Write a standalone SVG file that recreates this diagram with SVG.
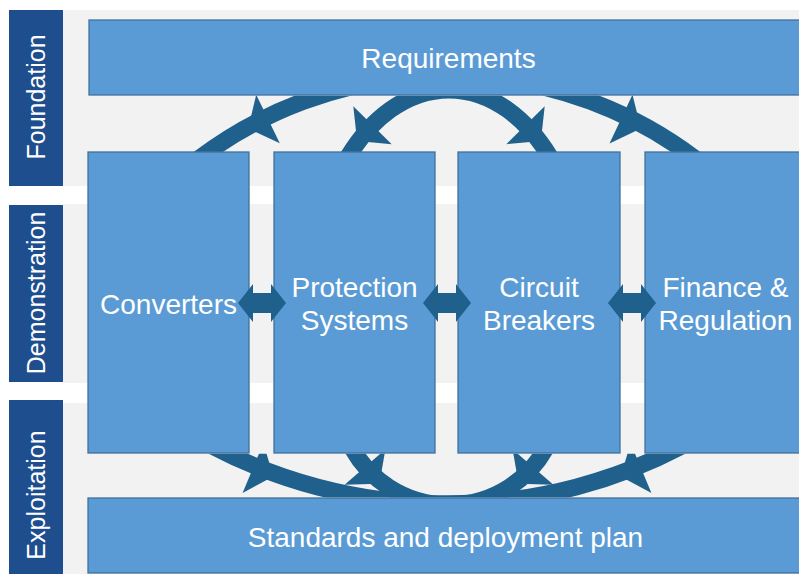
<svg xmlns="http://www.w3.org/2000/svg" xmlns:xlink="http://www.w3.org/1999/xlink" width="799" height="574" viewBox="0 0 799 574">
  <style>
    .band { fill: #f2f2f2; }
    .phase { fill: #1f4e8f; }
    .phase-text { fill: #ffffff; font-family: "Liberation Sans", Arial, sans-serif; font-size: 25px; text-anchor: middle; }
    .box { fill: #5b9bd5; stroke: #41719c; stroke-width: 1.3; }
    .label { fill: #ffffff; font-family: "Liberation Sans", Arial, sans-serif; font-size: 28px; text-anchor: middle; }
    .arc { fill: none; stroke: #20608c; stroke-width: 17; }
    .head { fill: #20608c; }
  </style>
  <defs>
    <path id="dbl" d="M-24 0 L-9 -19 V-10 H9 V-19 L24 0 L9 19 V10 H-9 V19 Z"/>
    <clipPath id="gaps">
      <rect x="0" y="95.7" width="799" height="56"/>
      <rect x="0" y="453.7" width="799" height="43.6"/>
    </clipPath>
  </defs>
  <rect width="799" height="574" fill="#ffffff"/>

  <g id="bands">
    <rect class="band" x="63" y="10" width="736" height="176"/>
    <rect class="band" x="63" y="204" width="736" height="179"/>
    <rect class="band" x="63" y="403" width="736" height="171"/>
  </g>

  <g id="phase-foundation">
    <rect class="phase" x="9" y="10" width="54" height="176"/>
    <text class="phase-text" transform="translate(45 97) rotate(-90)">Foundation</text>
  </g>
  <g id="phase-demonstration">
    <rect class="phase" x="9" y="205" width="54" height="177"/>
    <text class="phase-text" transform="translate(45 293) rotate(-90)">Demonstration</text>
  </g>
  <g id="phase-exploitation">
    <rect class="phase" x="9" y="400" width="54" height="174"/>
    <text class="phase-text" transform="translate(45 495) rotate(-90)">Exploitation</text>
  </g>

  <g id="requirements">
    <rect class="box" x="89" y="20" width="722" height="75"/>
    <text class="label" x="448.5" y="68">Requirements</text>
  </g>
  <g id="converters">
    <rect class="box" x="88" y="152" width="161" height="301"/>
    <text class="label" x="168.5" y="314">Converters</text>
  </g>
  <g id="protection-systems">
    <rect class="box" x="274" y="152" width="161" height="301"/>
    <text class="label" x="354.5" y="297">Protection</text>
    <text class="label" x="354.5" y="330">Systems</text>
  </g>
  <g id="circuit-breakers">
    <rect class="box" x="458" y="152" width="162" height="301"/>
    <text class="label" x="539" y="297">Circuit</text>
    <text class="label" x="539" y="330">Breakers</text>
  </g>
  <g id="finance-regulation">
    <rect class="box" x="645" y="152" width="161" height="301"/>
    <text class="label" x="725.5" y="297">Finance &amp;</text>
    <text class="label" x="725.5" y="330">Regulation</text>
  </g>
  <g id="standards">
    <rect class="box" x="88" y="498" width="723" height="75"/>
    <text class="label" x="445.5" y="547">Standards and deployment plan</text>
  </g>

  <g id="connectors">
    <g clip-path="url(#gaps)">
      <path class="arc" d="M184.5 170 A412 412 0 0 1 709.5 170"/>
      <path class="arc" d="M346.1 160 A138 210 0 0 1 551.9 160"/>
      <path class="arc" d="M201 440 A505.8 505.8 0 0 0 693 440"/>
      <path class="arc" d="M348 440 A111 111 0 0 0 550 440"/>
      <polygon class="head" points="256.2,94.7 279.8,143.3 248.2,128.6"/>
      <polygon class="head" points="632.5,94.6 609.5,143.4 640.9,128.4"/>
      <polygon class="head" points="353.3,106.2 391.7,144.2 357.1,140.9"/>
      <polygon class="head" points="544.7,106.2 506.3,144.2 540.9,140.9"/>
      <polygon class="head" points="242.6,492.9 263.4,443.1 273.3,476.4"/>
      <polygon class="head" points="651.4,492.9 630.6,443.1 620.7,476.4"/>
      <polygon class="head" points="344.6,484.7 385.4,449.3 379.4,483.7"/>
      <polygon class="head" points="553.4,484.7 512.6,449.3 518.6,483.7"/>
    </g>
    <use xlink:href="#dbl" x="262" y="303" class="head"/>
    <use xlink:href="#dbl" x="447" y="303" class="head"/>
    <use xlink:href="#dbl" x="632" y="303" class="head"/>
  </g>
</svg>
